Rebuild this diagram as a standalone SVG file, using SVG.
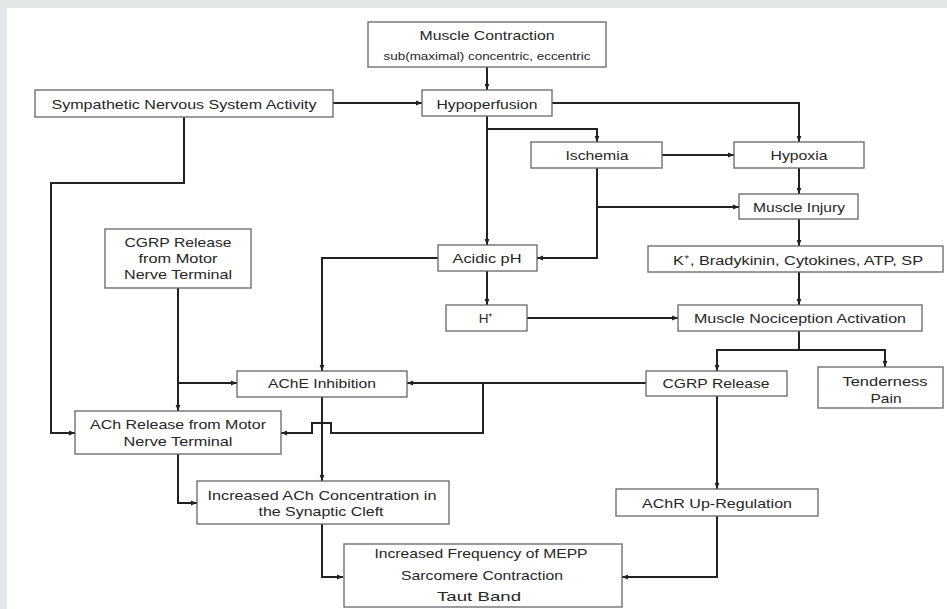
<svg xmlns="http://www.w3.org/2000/svg" width="947" height="609" viewBox="0 0 947 609">
<defs>
<marker id="ah" viewBox="0 0 10 10" refX="10" refY="5" markerWidth="6" markerHeight="6" markerUnits="userSpaceOnUse" orient="auto">
<path d="M0,1 L10,5 L0,9 z" fill="#222"/>
</marker>
<style>
.box{fill:#fff;stroke:#666;stroke-width:1.3}
.t{font-family:"Liberation Sans",Arial,sans-serif;font-size:13.5px;fill:#262626;text-anchor:middle}
.s{font-size:11px}
.c path{fill:none;stroke:#222;stroke-width:2;marker-end:url(#ah)}
</style>
</defs>
<rect x="0" y="0" width="947" height="609" fill="#e3e7e7"/>
<rect x="7" y="8" width="940" height="601" fill="#fff"/>

<g class="c" id="connectors">
<path d="M487,67 V90"/>
<path d="M333,103 H422"/>
<path d="M552,103 H799 V142"/>
<path d="M487,116 V245"/>
<path d="M487,129 H597 V142"/>
<path d="M662,155 H734"/>
<path d="M799,168 V194"/>
<path d="M597,168 V258 H537"/>
<path d="M597,207 H739"/>
<path d="M799,219 V246"/>
<path d="M799,272 V305"/>
<path d="M487,271 V305"/>
<path d="M527,318 H678"/>
<path d="M799,331 V350 H717 V371"/>
<path d="M799,350 H885 V367"/>
<path d="M438,258 H322 V371"/>
<path d="M646,383 H407"/>
<path d="M483,383 V433 H331 V423 H312 V433 H281"/>
<path d="M178,288 V411"/>
<path d="M178,383 H237"/>
<path d="M184,117 V183 H51 V433 H75"/>
<path d="M322,397 V481"/>
<path d="M178,454 V503 H197"/>
<path d="M322,524 V577 H343"/>
<path d="M717,396 V489"/>
<path d="M717,516 V577 H622"/>
</g>

<g id="muscle-contraction">
<rect class="box" x="368" y="22" width="238" height="45"/>
<text class="t" x="487" y="40" textLength="135" lengthAdjust="spacingAndGlyphs">Muscle Contraction</text>
<text class="t s" x="487" y="60" textLength="207" lengthAdjust="spacingAndGlyphs">sub(maximal) concentric, eccentric</text>
</g>
<g id="sympathetic">
<rect class="box" x="35" y="90" width="298" height="27"/>
<text class="t" x="184" y="109" textLength="265" lengthAdjust="spacingAndGlyphs">Sympathetic Nervous System Activity</text>
</g>
<g id="hypoperfusion">
<rect class="box" x="422" y="90" width="130" height="26"/>
<text class="t" x="487" y="109" textLength="101" lengthAdjust="spacingAndGlyphs">Hypoperfusion</text>
</g>
<g id="ischemia">
<rect class="box" x="531" y="142" width="131" height="26"/>
<text class="t" x="597" y="160" textLength="63" lengthAdjust="spacingAndGlyphs">Ischemia</text>
</g>
<g id="hypoxia">
<rect class="box" x="734" y="142" width="130" height="26"/>
<text class="t" x="799" y="160" textLength="57" lengthAdjust="spacingAndGlyphs">Hypoxia</text>
</g>
<g id="muscle-injury">
<rect class="box" x="739" y="194" width="119" height="25"/>
<text class="t" x="799" y="212" textLength="92" lengthAdjust="spacingAndGlyphs">Muscle Injury</text>
</g>
<g id="acidic-ph">
<rect class="box" x="438" y="245" width="99" height="26"/>
<text class="t" x="487" y="263" textLength="69" lengthAdjust="spacingAndGlyphs">Acidic pH</text>
</g>
<g id="mediators">
<rect class="box" x="648" y="246" width="295" height="26"/>
<text class="t" x="798" y="265" textLength="250" lengthAdjust="spacingAndGlyphs">K⁺, Bradykinin, Cytokines, ATP, SP</text>
</g>
<g id="h-plus">
<rect class="box" x="446" y="305" width="81" height="26"/>
<text class="t" x="486" y="323">H⁺</text>
</g>
<g id="nociception">
<rect class="box" x="678" y="305" width="244" height="26"/>
<text class="t" x="800" y="323" textLength="212" lengthAdjust="spacingAndGlyphs">Muscle Nociception Activation</text>
</g>
<g id="cgrp-motor">
<rect class="box" x="105" y="229" width="146" height="59"/>
<text class="t" x="178" y="247" textLength="107" lengthAdjust="spacingAndGlyphs">CGRP Release</text>
<text class="t" x="178" y="263" textLength="79" lengthAdjust="spacingAndGlyphs">from Motor</text>
<text class="t" x="178" y="279" textLength="108" lengthAdjust="spacingAndGlyphs">Nerve Terminal</text>
</g>
<g id="ache-inhibition">
<rect class="box" x="237" y="371" width="170" height="26"/>
<text class="t" x="322" y="388" textLength="108" lengthAdjust="spacingAndGlyphs">AChE Inhibition</text>
</g>
<g id="cgrp-release">
<rect class="box" x="646" y="371" width="141" height="25"/>
<text class="t" x="716" y="388" textLength="107" lengthAdjust="spacingAndGlyphs">CGRP Release</text>
</g>
<g id="tenderness">
<rect class="box" x="818" y="367" width="125" height="41"/>
<text class="t" x="885" y="386" textLength="85" lengthAdjust="spacingAndGlyphs">Tenderness</text>
<text class="t" x="886" y="403" textLength="31" lengthAdjust="spacingAndGlyphs">Pain</text>
</g>
<g id="ach-release">
<rect class="box" x="75" y="411" width="206" height="43"/>
<text class="t" x="178" y="429" textLength="176" lengthAdjust="spacingAndGlyphs">ACh Release from Motor</text>
<text class="t" x="178" y="446" textLength="109" lengthAdjust="spacingAndGlyphs">Nerve Terminal</text>
</g>
<g id="ach-concentration">
<rect class="box" x="197" y="481" width="252" height="43"/>
<text class="t" x="322" y="500" textLength="229" lengthAdjust="spacingAndGlyphs">Increased ACh Concentration in</text>
<text class="t" x="321" y="516" textLength="125" lengthAdjust="spacingAndGlyphs">the Synaptic Cleft</text>
</g>
<g id="achr-upregulation">
<rect class="box" x="616" y="489" width="202" height="27"/>
<text class="t" x="717" y="508" textLength="150" lengthAdjust="spacingAndGlyphs">AChR Up-Regulation</text>
</g>
<g id="mepp">
<rect class="box" x="344" y="544" width="278" height="63"/>
<text class="t" x="481" y="558" textLength="213" lengthAdjust="spacingAndGlyphs">Increased Frequency of MEPP</text>
<text class="t" x="482" y="580" textLength="162" lengthAdjust="spacingAndGlyphs">Sarcomere Contraction</text>
<text class="t" x="479" y="601" textLength="84" lengthAdjust="spacingAndGlyphs">Taut Band</text>
</g>
</svg>
